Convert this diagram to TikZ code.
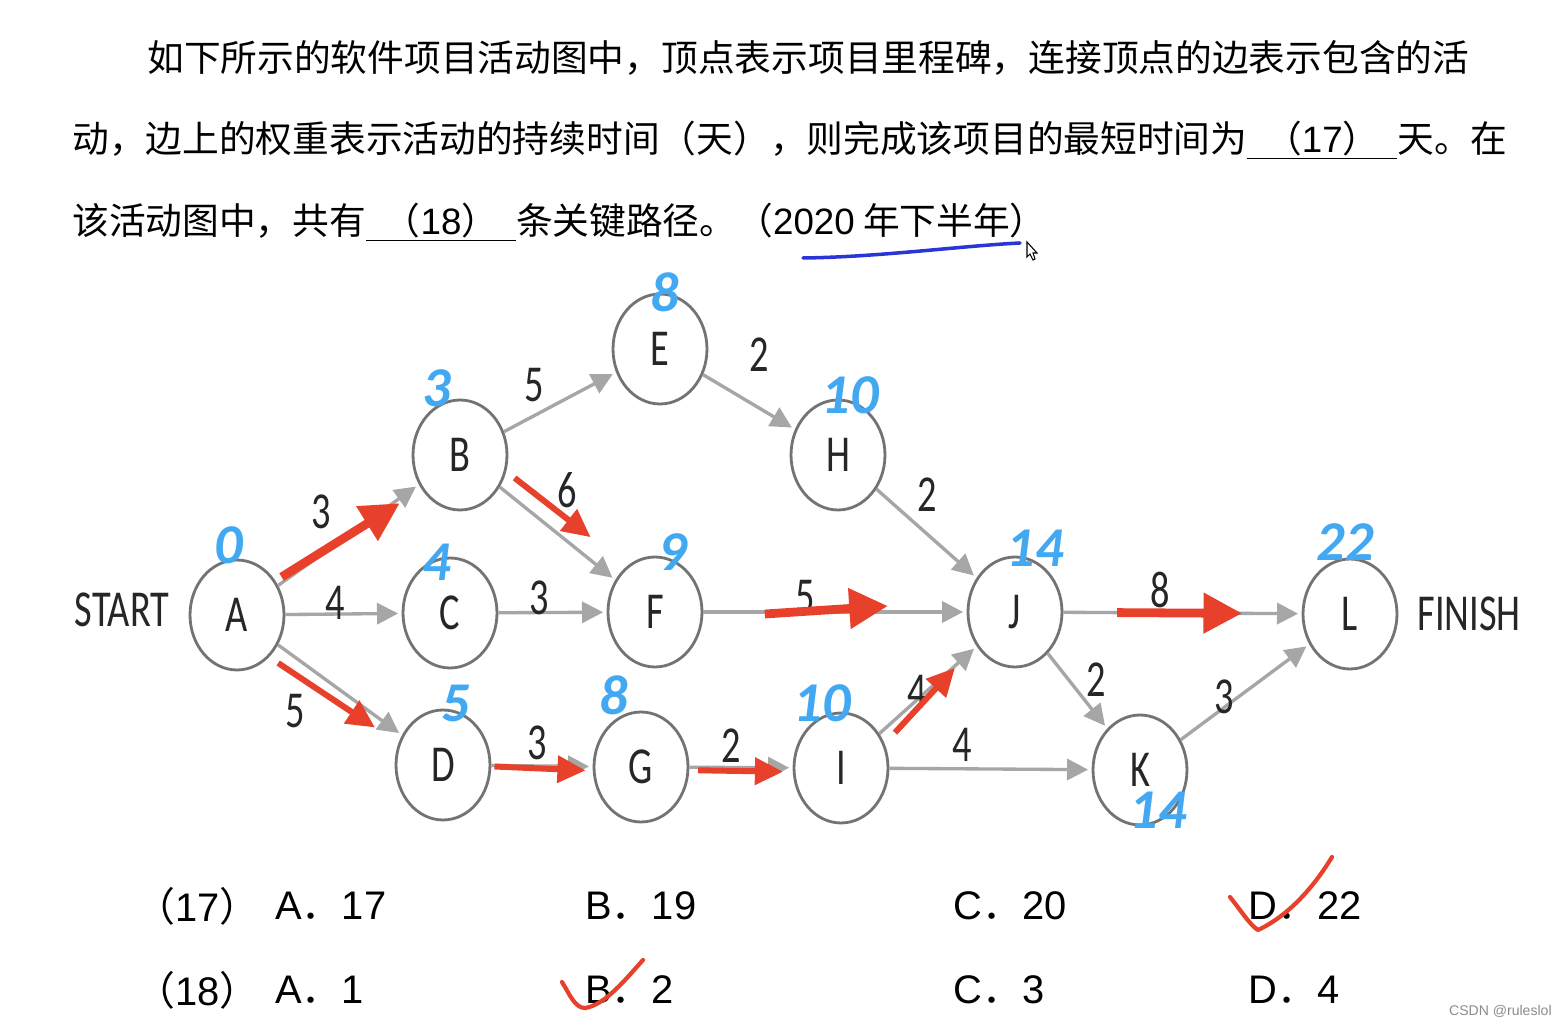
\documentclass[tikz,border=0pt]{standalone}
\usepackage{fontspec}
\setmainfont{Liberation Sans}
\newfontfamily\cjk{Noto Sans CJK SC}
\newfontfamily\graphfont{Carlito}
\usetikzlibrary{arrows.meta,calc,shapes.geometric}
\definecolor{redink}{HTML}{E8412B}
\definecolor{handblue}{HTML}{42A8F2}
\definecolor{penblue}{HTML}{2A35D6}
\newcommand\narrow[1]{\scalebox{0.74}[1]{#1}}
\newcommand\lat[1]{{\rmfamily #1}}
\newcommand\blank[1]{\underline{\makebox[3cm]{#1}}}
\newcommand\paren[1]{{\cjk\makebox[0.5em][r]{（}}#1{\cjk\makebox[0.5em][l]{）}}}
\newcommand\dotcjk{{\cjk ．}}

\begin{document}
\begin{tikzpicture}[x=0.02cm, y=-0.02cm,
  vertex/.style={ellipse, draw=black!55, line width=1.6pt, minimum width=1.88cm,
    minimum height=2.2cm, inner sep=0pt, text=black!85,
    font=\graphfont\fontsize{29.5}{30}\selectfont},
  wt/.style={inner sep=0pt, text=black!85, font=\graphfont\fontsize{29.5}{30}\selectfont},
  edge/.style={draw=black!35, line width=1.9pt, -{Triangle[length=12pt,width=12pt]},
    shorten >=2pt},
  redarrow/.style={draw=redink, line width=3.4pt, -{Triangle[length=16pt,width=15pt]}},
  bigred/.style={draw=redink, line width=5pt, -{Triangle[length=22pt,width=22pt]}},
  hand/.style={inner sep=0pt, text=handblue,
    font=\graphfont\bfseries\itshape\fontsize{32}{32}\selectfont},
  qtext/.style={anchor=west, inner sep=0pt, font=\cjk\fontsize{20.9}{25}\selectfont},
  opt/.style={anchor=west, inner sep=0pt, font=\fontsize{22.7}{26}\selectfont}]

  \fill[white] (0,0) rectangle (1566,1026);
  \useasboundingbox (0,0) rectangle (1566,1026);

  % question text
  \node[qtext] (q1) at (147,58) {如下所示的软件项目活动图中，顶点表示项目里程碑，连接顶点的边表示包含的活};
  \node[qtext] (q2) at (72,140) {动，边上的权重表示活动的持续时间（天），则完成该项目的最短时间为\blank{（\lat{17}）}天。在};
  \node[qtext] (q3) at (72,222) {该活动图中，共有\blank{（\lat{18}）}条关键路径。（\lat{2020} 年下半年）};
  \draw[penblue, line width=2pt, line cap=round] (803,258) .. controls (880,257) and (960,246) .. (1020,243);
  \draw[black, line width=0.6pt, fill=white] (1027,242) -- (1027,257) -- (1030,254) -- (1033,260)
    -- (1035,259) -- (1033,253) -- (1037,253) -- cycle;

  % milestones
  \node[vertex] (A) at (237,615) {\narrow{A}};
  \node[vertex] (B) at (460,455) {\narrow{B}};
  \node[vertex] (C) at (450,613) {\narrow{C}};
  \node[vertex] (D) at (443,765) {\narrow{D}};
  \node[vertex] (E) at (660,349) {\narrow{E}};
  \node[vertex] (F) at (655,612) {\narrow{F}};
  \node[vertex] (G) at (641,767) {\narrow{G}};
  \node[vertex] (H) at (838,455) {\narrow{H}};
  \node[vertex] (I) at (841,768) {\narrow{I}};
  \node[vertex] (J) at (1015,612) {\narrow{J}};
  \node[vertex] (K) at (1140,770) {\narrow{K}};
  \node[vertex] (L) at (1350,614) {\narrow{L}};
  \node[wt] (start) at (122,610) {\narrow{START}};
  \node[wt] (finish) at (1469,614) {\narrow{FINISH}};

  % activities
  \draw[edge] (A) -- (B);
  \draw[edge] (A) -- (C);
  \draw[edge] (A) -- (D);
  \draw[edge] (B) -- (E);
  \draw[edge] (B) -- (F);
  \draw[edge] (C) -- (F);
  \draw[edge] (D) -- (G);
  \draw[edge] (E) -- (H);
  \draw[edge] (F) -- (J);
  \draw[edge] (G) -- (I);
  \draw[edge] (H) -- (J);
  \draw[edge] (I) -- (J);
  \draw[edge] (I) -- (K);
  \draw[edge] (J) -- (K);
  \draw[edge] (J) -- (L);
  \draw[edge] (K) -- (L);

  \node[wt] (wAB) at (321,512) {\narrow{3}};
  \node[wt] (wAC) at (335,603) {\narrow{4}};
  \node[wt] (wAD) at (295,711) {\narrow{5}};
  \node[wt] (wBE) at (534,385) {\narrow{5}};
  \node[wt] (wBF) at (567,490) {\narrow{6}};
  \node[wt] (wCF) at (539,598) {\narrow{3}};
  \node[wt] (wDG) at (537,743) {\narrow{3}};
  \node[wt] (wEH) at (759,355) {\narrow{2}};
  \node[wt] (wFJ) at (805,597) {\narrow{5}};
  \node[wt] (wGI) at (731,746) {\narrow{2}};
  \node[wt] (wHJ) at (927,495) {\narrow{2}};
  \node[wt] (wIJ) at (917,692) {\narrow{4}};
  \node[wt] (wIK) at (962,745) {\narrow{4}};
  \node[wt] (wJK) at (1096,680) {\narrow{2}};
  \node[wt] (wJL) at (1160,590) {\narrow{8}};
  \node[wt] (wKL) at (1224,697) {\narrow{3}};

  % critical path marks
  \draw[bigred] ($(A)!0.2!(B)+(0,-6)$) -- ($(A)!0.73!(B)+(0,5)$);
  \draw[redarrow] ($(A)!0.2!(D)+(0,18)$) -- ($(A)!0.67!(D)+(0,12)$);
  \draw[redarrow] ($(B)!0.28!(F)+(0,-21)$) -- ($(B)!0.67!(F)+(0,-23)$);
  \draw[redarrow] ($(D)!0.26!(G)+(0,1)$) -- ($(D)!0.72!(G)+(0,4)$);
  \draw[redarrow] ($(G)!0.285!(I)+(0,3)$) -- ($(G)!0.71!(I)+(0,4)$);
  \draw[redarrow] ($(I)!0.31!(J)+(0,13)$) -- ($(I)!0.655!(J)+(0,2)$);
  \draw[bigred] ($(F)!0.305!(J)+(0,2)$) -- ($(F)!0.647!(J)+(0,-6)$);
  \draw[bigred] ($(J)!0.305!(L)$) -- ($(J)!0.678!(L)$);

  % earliest times
  \node[hand] (tA) at (229,545) {0};
  \node[hand] (tB) at (437,388) {3};
  \node[hand] (tE) at (665,292) {8};
  \node[hand] (tC) at (437,562) {4};
  \node[hand] (tF) at (673,552) {9};
  \node[hand] (tH) at (850,395) {10};
  \node[hand] (tD) at (456,703) {5};
  \node[hand] (tG) at (614,695) {8};
  \node[hand] (tI) at (822,703) {10};
  \node[hand] (tJ) at (1035,548) {14};
  \node[hand] (tL) at (1345,542) {22};
  \node[hand] (tK) at (1158,810) {14};

  % choices
  \node[opt] (p17) at (155,906) {\paren{17}};
  \node[opt] (a17) at (275,906) {A\dotcjk 17};
  \node[opt] (b17) at (585,906) {B\dotcjk 19};
  \node[opt] (c17) at (953,906) {C\dotcjk 20};
  \node[opt] (d17) at (1248,906) {D\dotcjk 22};
  \node[opt] (p18) at (155,990) {\paren{18}};
  \node[opt] (a18) at (275,990) {A\dotcjk 1};
  \node[opt] (b18) at (585,990) {B\dotcjk 2};
  \node[opt] (c18) at (953,990) {C\dotcjk 3};
  \node[opt] (d18) at (1248,990) {D\dotcjk 4};
  \draw[redink, line width=2.4pt, line cap=round, line join=round] (1230,897)
    .. controls (1242,912) and (1250,925) .. (1258,930)
    .. controls (1290,915) and (1315,885) .. (1332,857);
  \draw[redink, line width=2.4pt, line cap=round, line join=round] (562,982)
    .. controls (570,995) and (575,1008) .. (585,1008)
    .. controls (605,1005) and (625,980) .. (643,960);

  \node[anchor=east, inner sep=0pt, text=black!45, font=\fontsize{8}{9}\selectfont] (wm) at (1552,1011) {CSDN @ruleslol};
\end{tikzpicture}
\end{document}
